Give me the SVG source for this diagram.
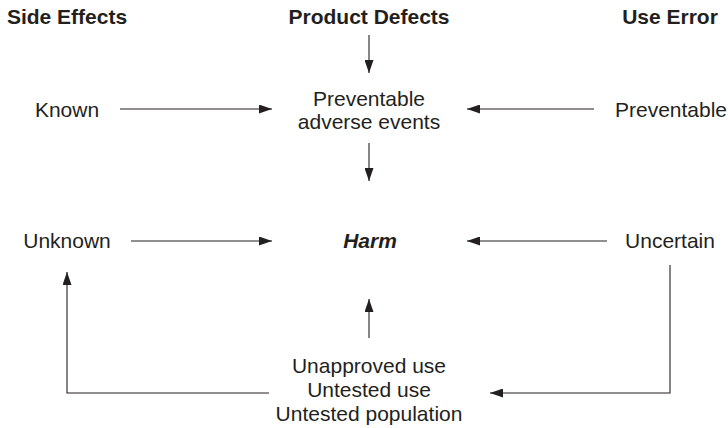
<svg xmlns="http://www.w3.org/2000/svg" width="728" height="428" viewBox="0 0 728 428">
  <defs>
    <marker id="arrowhead" markerUnits="userSpaceOnUse" markerWidth="13" markerHeight="9" refX="13" refY="4.5" orient="auto">
      <path d="M0,0 L13,4.5 L0,9 z" fill="#231f20"/>
    </marker>
    <style>
      text { font-family: "Liberation Sans", Arial, Helvetica, sans-serif; font-size: 21px; fill: #231f20; text-anchor: middle; }
      .head { font-weight: bold; }
      .harm { font-weight: bold; font-style: italic; }
      .conn { fill: none; stroke: #231f20; stroke-width: 1.1; }
      .arrow { marker-end: url(#arrowhead); }
    </style>
  </defs>
  <rect width="728" height="428" fill="#ffffff"/>

  <!-- column headings -->
  <g id="side-effects"><text class="head" x="67" y="24">Side Effects</text></g>
  <g id="product-defects"><text class="head" x="369" y="24">Product Defects</text></g>
  <g id="use-error"><text class="head" x="670" y="24">Use Error</text></g>

  <!-- upper row -->
  <g id="known"><text x="67" y="117">Known</text></g>
  <g id="preventable-adverse-events">
    <text x="369" y="106">Preventable</text>
    <text x="369" y="129">adverse events</text>
  </g>
  <g id="preventable"><text x="671" y="117">Preventable</text></g>

  <!-- middle row -->
  <g id="unknown"><text x="67" y="248">Unknown</text></g>
  <g id="harm"><text class="harm" x="370" y="248">Harm</text></g>
  <g id="uncertain"><text x="670" y="248">Uncertain</text></g>

  <!-- bottom block -->
  <g id="unapproved-use">
    <text x="369" y="373">Unapproved use</text>
    <text x="369" y="397">Untested use</text>
    <text x="369" y="421">Untested population</text>
  </g>

  <!-- connectors -->
  <g id="connectors">
    <line class="conn arrow" x1="369" y1="35" x2="369" y2="73"/>
    <line class="conn arrow" x1="120" y1="109" x2="272" y2="109"/>
    <line class="conn arrow" x1="594" y1="109" x2="467" y2="109"/>
    <line class="conn arrow" x1="369" y1="143" x2="369" y2="181"/>
    <line class="conn arrow" x1="131" y1="241" x2="272" y2="241"/>
    <line class="conn arrow" x1="607" y1="241" x2="467" y2="241"/>
    <line class="conn arrow" x1="369" y1="338" x2="369" y2="299"/>
    <polyline class="conn arrow" points="269,393 67,393 67,272"/>
    <polyline class="conn arrow" points="670,265 670,393 490,393"/>
  </g>
</svg>
